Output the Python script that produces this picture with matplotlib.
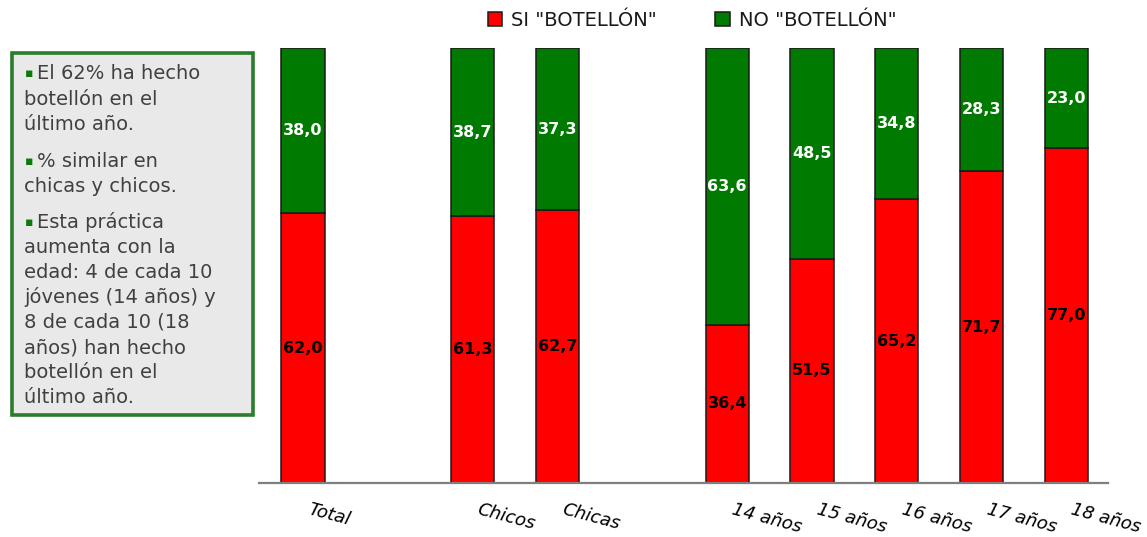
import numpy as np
import matplotlib.pyplot as plt
from matplotlib.patches import Rectangle

# datos: % que ha hecho botellón en el último año
categorias = ['Total', 'Chicos', 'Chicas', '14 años', '15 años', '16 años', '17 años', '18 años']
grupos = [1, 2, 5]  # Total | sexo | edad
si_botellon = [62.0, 61.3, 62.7, 36.4, 51.5, 65.2, 71.7, 77.0]
no_botellon = [38.0, 38.7, 37.3, 63.6, 48.5, 34.8, 28.3, 23.0]

notas = [
    ['El 62% ha hecho', 'botellón en el', 'último año.'],
    ['% similar en', 'chicas y chicos.'],
    ['Esta práctica', 'aumenta con la', 'edad: 4 de cada 10', 'jóvenes (14 años) y',
     '8 de cada 10 (18', 'años) han hecho', 'botellón en el', 'último año.'],
]

ROJO = '#ff0000'
VERDE = '#007a00'

W, H = 1147, 537
fig = plt.figure(figsize=(W / 100, H / 100), dpi=100)
plt.rcParams['font.family'] = ['DejaVu Sans']

# posiciones: un hueco entre cada grupo
x = []
pos = 0
for n in grupos:
    x.extend(range(pos, pos + n))
    pos += n + 1
x = np.array(x)

ax = fig.add_axes([259 / W, 1 - 483 / H, (1108 - 259) / W, (483 - 48) / H])
si = np.array(si_botellon)
no = np.array(no_botellon)
ax.bar(x, si, width=0.51, color=ROJO, edgecolor='#1a1a1a', linewidth=1.1,
       label='SI "BOTELLÓN"')
ax.bar(x, no, bottom=si, width=0.51, color=VERDE, edgecolor='#1a1a1a', linewidth=1.1,
       label='NO "BOTELLÓN"')

for xi, s, n in zip(x, si, no):
    ax.text(xi, s / 2, f'{s:.1f}'.replace('.', ','), ha='center', va='center',
            fontsize=11.5, fontweight='bold', color='black')
    ax.text(xi, s + n / 2, f'{n:.1f}'.replace('.', ','), ha='center', va='center',
            fontsize=11.5, fontweight='bold', color='white')

ax.set_xlim(-0.52, x[-1] + 0.49)
ax.set_ylim(0, 100)
for lado in ['top', 'right', 'left']:
    ax.spines[lado].set_visible(False)
ax.spines['bottom'].set_color('#7f7f7f')
ax.spines['bottom'].set_linewidth(1.6)
ax.set_yticks([])
ax.set_xticks([])

for xi, cat in zip(x, categorias):
    ax.text(xi + 0.09, -0.04, cat, transform=ax.get_xaxis_transform(),
            rotation=-15, rotation_mode='anchor', ha='left', va='top',
            fontsize=13, style='italic', color='black')

fig.legend(loc='center', bbox_to_anchor=(692 / W, 1 - 20 / H), ncol=2,
           frameon=False, fontsize=14, handlelength=0.75, handleheight=0.75,
           handletextpad=0.45, columnspacing=3.0, labelcolor='#1a1a1a')

# recuadro de texto a la izquierda
fig.patches.append(Rectangle((12 / W, 1 - 415 / H), (253 - 12) / W, (415 - 53) / H,
                             transform=fig.transFigure, facecolor='#e9e9e9',
                             edgecolor='#2a7d2a', linewidth=2.6))
bases = [[79, 105, 130], [167, 192],
         [228, 253, 278, 303, 328, 353, 378, 403]]
for parrafo, ys in zip(notas, bases):
    fig.text(25 / W, 1 - (ys[0] - 2) / H, '▪', fontsize=9, color='#0b7a0b',
             va='baseline', ha='left')
    for i, (linea, y) in enumerate(zip(parrafo, ys)):
        x0 = 37 if i == 0 else 24
        fig.text(x0 / W, 1 - y / H, linea, fontsize=14, color='#404040',
                 va='baseline', ha='left')

fig.savefig('out.png', dpi=100)
